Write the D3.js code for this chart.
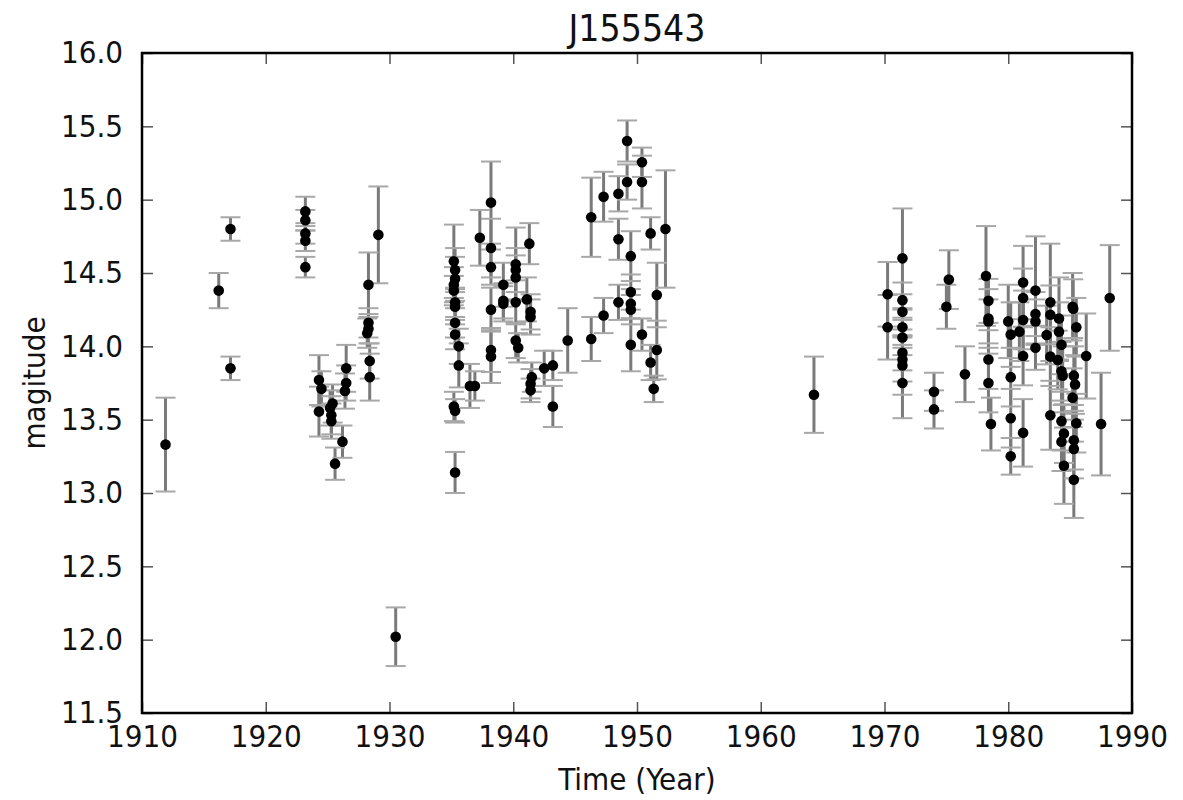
<!DOCTYPE html>
<html lang="en">
<head>
    <meta charset="UTF-8">
    <title>J155543</title>
    <script src="https://d3js.org/d3.v7.min.js"></script>
    <style>
        body { margin: 0; background: #fff; }
        text { font-family: "DejaVu Sans Condensed", "DejaVu Sans", sans-serif; font-stretch: condensed; fill: #111; }
    </style>
</head>
<body>
    <svg id="chart" width="1183" height="800"></svg>
    <script>
        // observation epochs (year), magnitudes and their errors
        var years = [
            1911.9, 1916.2, 1917.15, 1917.15,
            1923.2, 1923.2, 1923.2, 1923.2, 1923.2,
            1924.3, 1924.5, 1924.3, 1925.4, 1925.2, 1925.3, 1925.3, 1925.6, 1926.2,
            1926.5, 1926.5, 1926.4,
            1928.3, 1928.3, 1928.3, 1928.2, 1928.4, 1928.4, 1929.1, 1930.5,
            1935.2, 1935.3, 1935.3, 1935.2, 1935.2, 1935.3, 1935.3, 1935.3, 1935.3,
            1935.6, 1935.6, 1935.2, 1935.3, 1935.3,
            1936.5, 1936.9, 1937.3,
            1938.2, 1938.2, 1938.2, 1938.2, 1938.2, 1938.2,
            1939.2, 1939.2, 1939.2,
            1940.2, 1940.2, 1940.2, 1940.2, 1940.2, 1940.4,
            1941.3, 1941.1, 1941.4, 1941.4, 1941.5, 1941.4, 1941.4,
            1942.5, 1943.2, 1943.2, 1944.4,
            1946.3, 1946.3, 1947.3, 1947.3, 1948.5, 1948.5, 1948.5,
            1949.2, 1949.2, 1949.5, 1949.5, 1949.5, 1949.5, 1949.5,
            1950.4, 1950.4, 1950.4, 1951.1, 1951.1, 1951.35, 1951.6, 1951.6, 1952.3,
            1964.3,
            1970.25, 1970.25,
            1971.45, 1971.45, 1971.45, 1971.45, 1971.45, 1971.45, 1971.45, 1971.45, 1971.45,
            1974.0, 1974.0, 1975.2, 1975.0, 1976.5,
            1978.2, 1978.4, 1978.4, 1978.4, 1978.4, 1978.4, 1978.6,
            1980.0, 1980.2, 1980.2, 1980.2, 1980.2,
            1981.2, 1981.2, 1981.2, 1980.9, 1981.2, 1981.2,
            1982.2, 1982.2, 1982.2, 1982.2,
            1983.4, 1983.4, 1983.1, 1983.4, 1983.4,
            1984.1, 1984.1, 1984.0, 1984.3, 1984.3, 1984.4, 1984.3, 1984.3, 1984.5, 1984.5,
            1985.2, 1985.25, 1985.5, 1985.3, 1985.4, 1985.2, 1985.5, 1985.3, 1985.3, 1985.3,
            1986.3, 1987.5, 1988.2
        ];
        var mags = [
            13.33, 14.38, 14.80, 13.85,
            14.92, 14.86, 14.77, 14.72, 14.54,
            13.77, 13.71, 13.555, 13.61, 13.58, 13.53, 13.49, 13.20, 13.35,
            13.85, 13.75, 13.695,
            14.42, 14.16, 14.12, 14.09, 13.90, 13.79, 14.76, 12.02,
            14.58, 14.52, 14.46, 14.42, 14.38, 14.30, 14.27, 14.16, 14.08,
            14.00, 13.87, 13.59, 13.56, 13.14,
            13.73, 13.73, 14.74,
            14.98, 14.67, 14.54, 14.25, 13.975, 13.93,
            14.42, 14.31, 14.29,
            14.56, 14.52, 14.47, 14.30, 14.04, 13.99,
            14.70, 14.32, 14.235, 14.20, 13.79, 13.745, 13.70,
            13.85, 13.87, 13.59, 14.04,
            14.88, 14.05, 15.02, 14.21, 15.04, 14.73, 14.30,
            15.40, 15.12, 14.615, 14.37, 14.29, 14.25, 14.01,
            15.255, 15.12, 14.08, 14.77, 13.89, 13.71, 14.35, 13.975, 14.80,
            13.67,
            14.355, 14.13,
            14.60, 14.315, 14.235, 14.13, 14.06, 13.956, 13.91, 13.87, 13.75,
            13.69, 13.57, 14.455, 14.27, 13.81,
            14.48, 14.31, 14.19, 14.17, 13.91, 13.75, 13.47,
            14.17, 14.08, 13.79, 13.51, 13.25,
            14.435, 14.33, 14.18, 14.10, 13.934, 13.41,
            14.38, 14.22, 14.17, 13.99,
            14.30, 14.215, 14.077, 13.93, 13.53,
            14.19, 14.10, 13.907, 14.01, 13.83, 13.80, 13.49, 13.35, 13.405, 13.186,
            14.27, 14.257, 14.13, 13.80, 13.74, 13.65, 13.476, 13.36, 13.30, 13.09,
            13.934, 13.47, 14.33
        ];
        var errs = [
            0.32, 0.12, 0.08, 0.08,
            0.10, 0.07, 0.07, 0.07, 0.07,
            0.17, 0.12, 0.17, 0.13, 0.12, 0.13, 0.12, 0.11, 0.11,
            0.16, 0.12, 0.12,
            0.22, 0.10, 0.10, 0.10, 0.12, 0.16, 0.33, 0.20,
            0.25, 0.15, 0.15, 0.12, 0.10, 0.10, 0.12, 0.10, 0.10,
            0.12, 0.15, 0.10, 0.08, 0.14,
            0.15, 0.10, 0.19,
            0.28, 0.20, 0.12, 0.15, 0.15, 0.18,
            0.15, 0.12, 0.12,
            0.25, 0.15, 0.15, 0.15, 0.12, 0.10,
            0.14, 0.15, 0.12, 0.12, 0.10, 0.10, 0.08,
            0.12, 0.10, 0.14, 0.22,
            0.27, 0.15, 0.17, 0.12, 0.12, 0.14, 0.12,
            0.14, 0.12, 0.17, 0.12, 0.10, 0.10, 0.18,
            0.10, 0.18, 0.11, 0.11, 0.12, 0.09, 0.22, 0.20, 0.40,
            0.26,
            0.22, 0.22,
            0.34, 0.12, 0.12, 0.12, 0.12, 0.12, 0.15, 0.20, 0.24,
            0.13, 0.13, 0.20, 0.15, 0.19,
            0.34, 0.15, 0.20, 0.15, 0.20, 0.20, 0.18,
            0.25, 0.22, 0.20, 0.20, 0.125,
            0.25, 0.20, 0.20, 0.20, 0.20, 0.23,
            0.37, 0.15, 0.15, 0.15,
            0.40, 0.20, 0.20, 0.20, 0.235,
            0.28, 0.20, 0.20, 0.20, 0.20, 0.20, 0.20, 0.20, 0.20, 0.26,
            0.23, 0.20, 0.20, 0.20, 0.20, 0.20, 0.20, 0.20, 0.20, 0.26,
            0.29, 0.35, 0.36
        ];
        var xTicks = [1910, 1920, 1930, 1940, 1950, 1960, 1970, 1980, 1990];
        var yTicks = [11.5, 12.0, 12.5, 13.0, 13.5, 14.0, 14.5, 15.0, 15.5, 16.0];

        var data = years.map(function(d, i) { return { year: d, mag: mags[i], err: errs[i] }; });

        // plot area (pixel edges of the frame)
        var plotLeft = 142, plotRight = 1132, plotTop = 53, plotBottom = 713;
        var svg = d3.select("#chart");

        var x = d3.scaleLinear().domain([1910, 1990]).range([plotLeft, plotRight]);
        var y = d3.scaleLinear().domain([11.5, 16.0]).range([plotBottom, plotTop]);

        // error bars
        var bars = svg.append("g");
        bars.selectAll("line.bar")
            .data(data)
            .enter().append("line")
            .attr("class", "bar")
            .attr("x1", d => x(d.year)).attr("x2", d => x(d.year))
            .attr("y1", d => y(d.mag + d.err)).attr("y2", d => y(d.mag - d.err))
            .attr("stroke", "#7a7a7a")
            .attr("stroke-width", 3);

        // caps
        [1, -1].forEach(function(s) {
            bars.selectAll("line.cap" + s)
                .data(data)
                .enter().append("line")
                .attr("x1", d => x(d.year) - 10).attr("x2", d => x(d.year) + 10)
                .attr("y1", d => y(d.mag + s * d.err)).attr("y2", d => y(d.mag + s * d.err))
                .attr("stroke", "#a8a8a8")
                .attr("stroke-width", 2);
        });

        // points
        svg.append("g").selectAll("circle")
            .data(data)
            .enter().append("circle")
            .attr("cx", d => x(d.year))
            .attr("cy", d => y(d.mag))
            .attr("r", 5.3)
            .attr("fill", "#000");

        function styleAxis(g) {
            g.select(".domain").remove();
            g.selectAll(".tick line").attr("stroke", "#555").attr("stroke-width", 1.5);
            g.attr("font-family", null).attr("font-size", null);
            g.selectAll("text").style("font-size", "31px").attr("fill", "#111");
        }

        svg.append("g")
            .attr("transform", "translate(0," + plotBottom + ")")
            .call(d3.axisBottom(x).tickValues(xTicks).tickSize(-11).tickPadding(12).tickFormat(d3.format("d")))
            .call(styleAxis);
        svg.append("g")
            .attr("transform", "translate(0," + plotTop + ")")
            .call(d3.axisTop(x).tickValues(xTicks).tickSize(-11).tickFormat(""))
            .call(styleAxis);
        svg.append("g")
            .attr("transform", "translate(" + plotLeft + ",0)")
            .call(d3.axisLeft(y).tickValues(yTicks).tickSize(-11).tickPadding(19).tickFormat(d3.format(".1f")))
            .call(styleAxis);
        svg.append("g")
            .attr("transform", "translate(" + plotRight + ",0)")
            .call(d3.axisRight(y).tickValues(yTicks).tickSize(-11).tickFormat(""))
            .call(styleAxis);

        // frame
        svg.append("rect")
            .attr("x", plotLeft).attr("y", plotTop)
            .attr("width", plotRight - plotLeft).attr("height", plotBottom - plotTop)
            .attr("fill", "none")
            .attr("stroke", "#000")
            .attr("stroke-width", 2.5);

        // title and labels
        svg.append("text")
            .attr("x", (plotLeft + plotRight) / 2).attr("y", 41)
            .attr("text-anchor", "middle")
            .style("font-size", "37px")
            .text("J155543");

        svg.append("text")
            .attr("x", (plotLeft + plotRight) / 2).attr("y", 790)
            .attr("text-anchor", "middle")
            .style("font-size", "31px")
            .text("Time (Year)");

        svg.append("text")
            .attr("transform", "translate(45," + (plotTop + plotBottom) / 2 + ") rotate(-90)")
            .attr("text-anchor", "middle")
            .style("font-size", "31px")
            .text("magitude");
    </script>
</body>
</html>
